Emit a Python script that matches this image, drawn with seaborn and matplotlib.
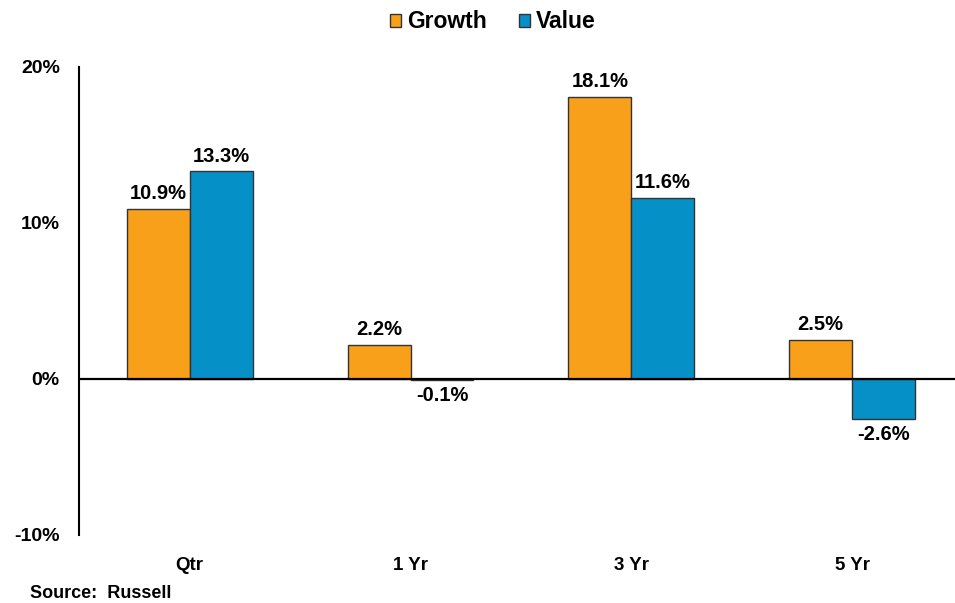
import pandas as pd
import matplotlib.pyplot as plt
import seaborn as sns
from matplotlib.ticker import FuncFormatter

# Datos
periods = ["Qtr", "1 Yr", "3 Yr", "5 Yr"]
growth = [10.9, 2.2, 18.1, 2.5]
value = [13.3, -0.1, 11.6, -2.6]

df = pd.DataFrame({
    "period": periods * 2,
    "style": ["Growth"] * 4 + ["Value"] * 4,
    "ret": growth + value,
})

sns.set_style("white")
plt.rcParams["font.family"] = ["Liberation Sans", "DejaVu Sans"]
plt.rcParams["font.weight"] = "bold"
plt.rcParams["text.color"] = "black"
plt.rcParams["xtick.color"] = "black"
plt.rcParams["ytick.color"] = "black"

palette = {"Growth": "#F9A01B", "Value": "#0590C8"}

fig = plt.figure(figsize=(9.55, 6.03), dpi=100)
ax = fig.add_axes([0.083, 0.113, 0.925, 0.776])

sns.barplot(data=df, x="period", y="ret", hue="style", palette=palette,
            width=0.57, saturation=1, edgecolor="#333333", linewidth=1,
            ax=ax)

for cont in ax.containers:
    ax.bar_label(cont, labels=[f"{v:.1f}%" for v in cont.datavalues],
                 padding=4, fontsize=14.5, fontweight="bold", color="black")

ax.set_ylim(-10, 20)
ax.set_xlim(-0.5, 3.5)
ax.set_yticks([-10, 0, 10, 20])
ax.yaxis.set_major_formatter(FuncFormatter(lambda v, p: f"{v:.0f}%"))
ax.axhline(0, color="black", lw=1.6)
ax.set_xlabel("")
ax.set_ylabel("")
ax.tick_params(axis="y", length=0, pad=14, labelsize=14)
ax.tick_params(axis="x", length=0, pad=16, labelsize=13.5)
for lab in ax.get_xticklabels() + ax.get_yticklabels():
    lab.set_fontweight("bold")

for s in ["top", "right", "bottom"]:
    ax.spines[s].set_visible(False)
ax.spines["left"].set_color("black")
ax.spines["left"].set_linewidth(1.5)

ax.legend(loc="upper center", bbox_to_anchor=(0.468, 1.165), ncol=2,
          frameon=False, handlelength=0.5, handleheight=0.5,
          handletextpad=0.25, columnspacing=1.4,
          prop={"weight": "bold", "size": 16.5})

fig.text(0.031, 0.008, "Source:  Russell", fontsize=13, fontweight="bold")

fig.savefig("out.png", dpi=100)
plt.close()
